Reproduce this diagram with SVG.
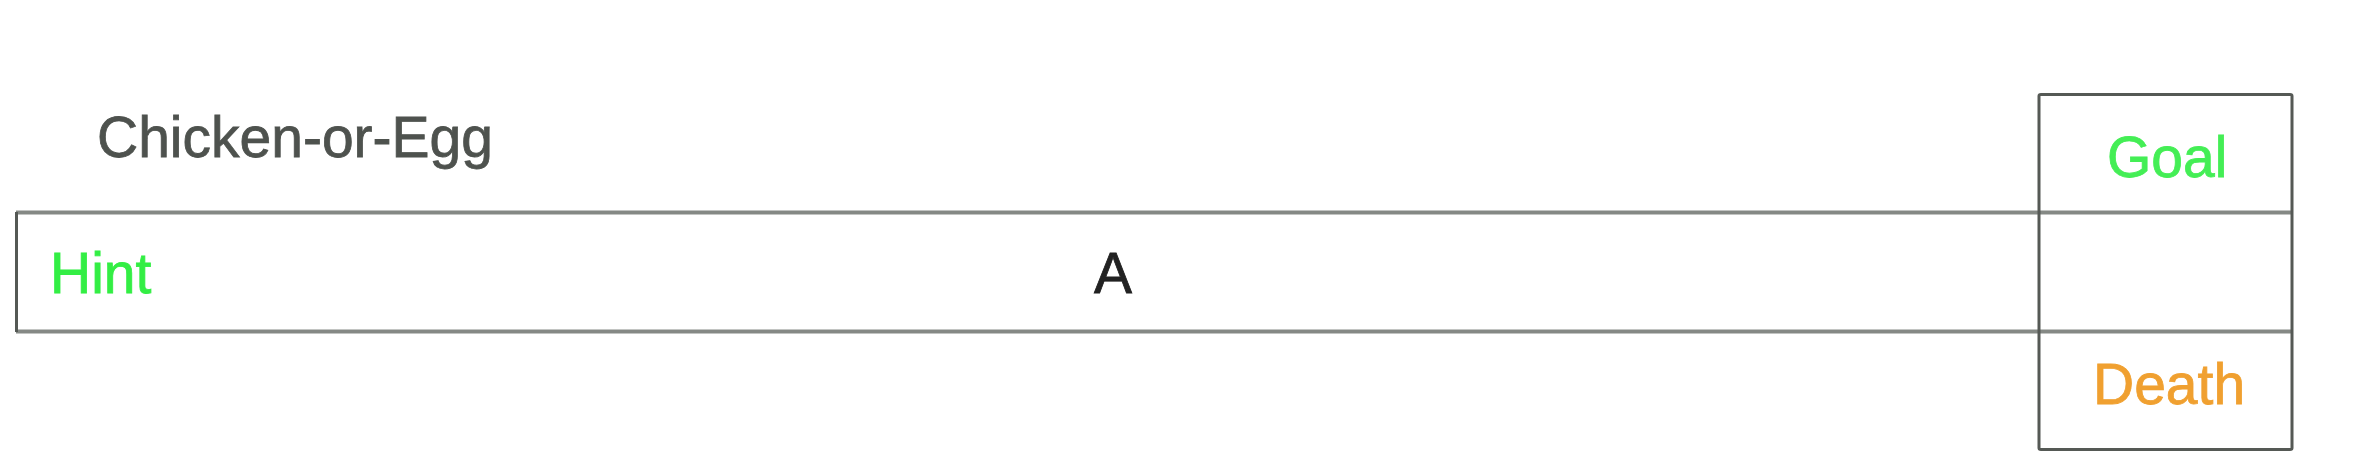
<svg xmlns="http://www.w3.org/2000/svg" width="2361" height="476" viewBox="0 0 2361 476">
<style>
.t{font-family:"Liberation Sans",Arial,Helvetica,sans-serif;font-size:57px;stroke-width:0.8}
.box{fill:none;stroke:#555955;stroke-width:3}
.hl{stroke:#858985;stroke-width:4;fill:none}
</style>
<rect width="2361" height="476" fill="#ffffff"/>
<g id="title"><text class="t" x="97" y="157" fill="#4e524e" stroke="#4e524e">Chicken-or-Egg</text></g>
<g id="main">
<line class="hl" x1="16" y1="212.5" x2="2292" y2="212.5"/>
<line class="hl" x1="16" y1="331.5" x2="2292" y2="331.5"/>
<line class="box" x1="16.5" y1="212" x2="16.5" y2="332"/>
<text class="t" x="50" y="293" fill="#33ee44" stroke="#33ee44">Hint</text>
<text class="t" x="1094" y="293" fill="#222222" stroke="#222222">A</text>
</g>
<g id="goal">
<path class="box" d="M2039,212 V96 Q2039,94.5 2041,94.5 H2290 Q2292,94.5 2292,96 V212"/>
<text class="t" x="2107" y="177" fill="#44ee55" stroke="#44ee55">Goal</text>
</g>
<g id="middle">
<line class="box" x1="2039" y1="212" x2="2039" y2="332"/>
<line class="box" x1="2292" y1="212" x2="2292" y2="332"/>
</g>
<g id="death">
<path class="box" d="M2039,332 V448 Q2039,449.5 2041,449.5 H2290 Q2292,449.5 2292,448 V332"/>
<text class="t" x="2093" y="404" fill="#f0a030" stroke="#f0a030">Death</text>
</g>
<g id="connectors"/>
</svg>
